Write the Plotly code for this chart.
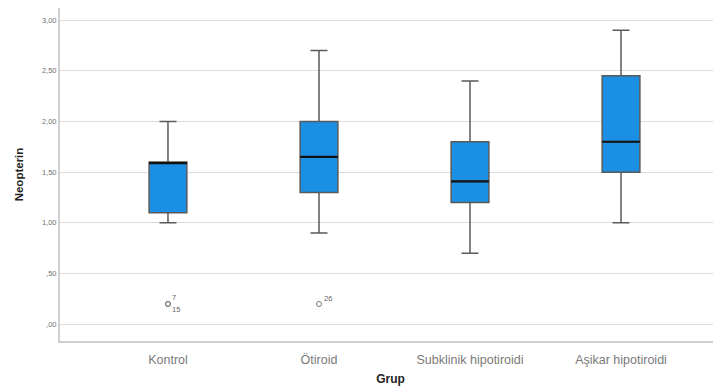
import plotly.graph_objects as go

categories = ["Kontrol", "Ötiroid", "Subklinik hipotiroidi", "Aşikar hipotiroidi"]
lower_fence = [1.00, 0.90, 0.70, 1.00]
q1 = [1.10, 1.30, 1.20, 1.50]
median = [1.59, 1.65, 1.41, 1.80]
q3 = [1.60, 2.00, 1.80, 2.45]
upper_fence = [2.00, 2.70, 2.40, 2.90]

outlier_group = [0, 0, 1]
outlier_value = [0.20, 0.20, 0.20]
outlier_label = ["7", "15", "26"]

y_ticks = [0.0, 0.5, 1.0, 1.5, 2.0, 2.5, 3.0]
y_tick_text = [",00", ",50", "1,00", "1,50", "2,00", "2,50", "3,00"]

BOX_W = 0.25
xs = list(range(len(categories)))

fig = go.Figure()
fig.add_trace(go.Box(
    x=xs, q1=q1, median=median, q3=q3,
    lowerfence=lower_fence, upperfence=upper_fence,
    width=BOX_W, whiskerwidth=0.45,
    fillcolor="#1a8fe3", line=dict(color="#5a5a5a", width=1.5),
    boxpoints=False, showlegend=False, hoverinfo="skip",
))
# darker median bars
for i, m in zip(xs, median):
    fig.add_trace(go.Scatter(
        x=[i - BOX_W / 2, i + BOX_W / 2], y=[m, m], mode="lines",
        line=dict(color="#111111", width=2.2), showlegend=False, hoverinfo="skip",
    ))
# outliers
fig.add_trace(go.Scatter(
    x=outlier_group, y=outlier_value, mode="markers",
    marker=dict(symbol="circle-open", size=5, color="#777777", line=dict(width=1)),
    showlegend=False, hoverinfo="skip",
))
shifts = {"7": (6, 6), "15": (8, -6), "26": (9, 5)}
for g, v, lab in zip(outlier_group, outlier_value, outlier_label):
    dx, dy = shifts[lab]
    fig.add_annotation(x=g, y=v, text=lab, showarrow=False, xshift=dx, yshift=dy,
                       font=dict(size=7.5, color="#666666", family="Arial, Liberation Sans"))

# page body has an 8px default margin, so the figure is sized to fit the window
fig.update_layout(
    width=713, height=378,
    margin=dict(l=52, r=0, t=0, b=45),
    paper_bgcolor="white", plot_bgcolor="white",
    font=dict(family="Arial, Liberation Sans, sans-serif", color="#666666"),
    xaxis=dict(
        range=[-0.715, 3.662], tickmode="array", tickvals=xs, ticktext=categories,
        showgrid=False, zeroline=False, showline=True, linecolor="#cfcfcf", linewidth=2,
        ticks="", tickfont=dict(size=12.5, color="#7a7a7a"), ticklabelstandoff=6,
        title=dict(text="<b>Grup</b>", font=dict(size=12, color="#222222"), standoff=9),
    ),
    yaxis=dict(
        range=[-0.165, 3.119], tickmode="array", tickvals=y_ticks, ticktext=y_tick_text,
        showgrid=True, gridcolor="#dcdcdc", gridwidth=1.3, zeroline=False,
        showline=True, linecolor="#cfcfcf", linewidth=2,
        ticks="", tickfont=dict(size=7.5, color="#707070"),
        title=dict(text="<b>Neopterin</b>", font=dict(size=11.5, color="#222222"), standoff=16),
    ),
)

fig.write_html("out.html")
